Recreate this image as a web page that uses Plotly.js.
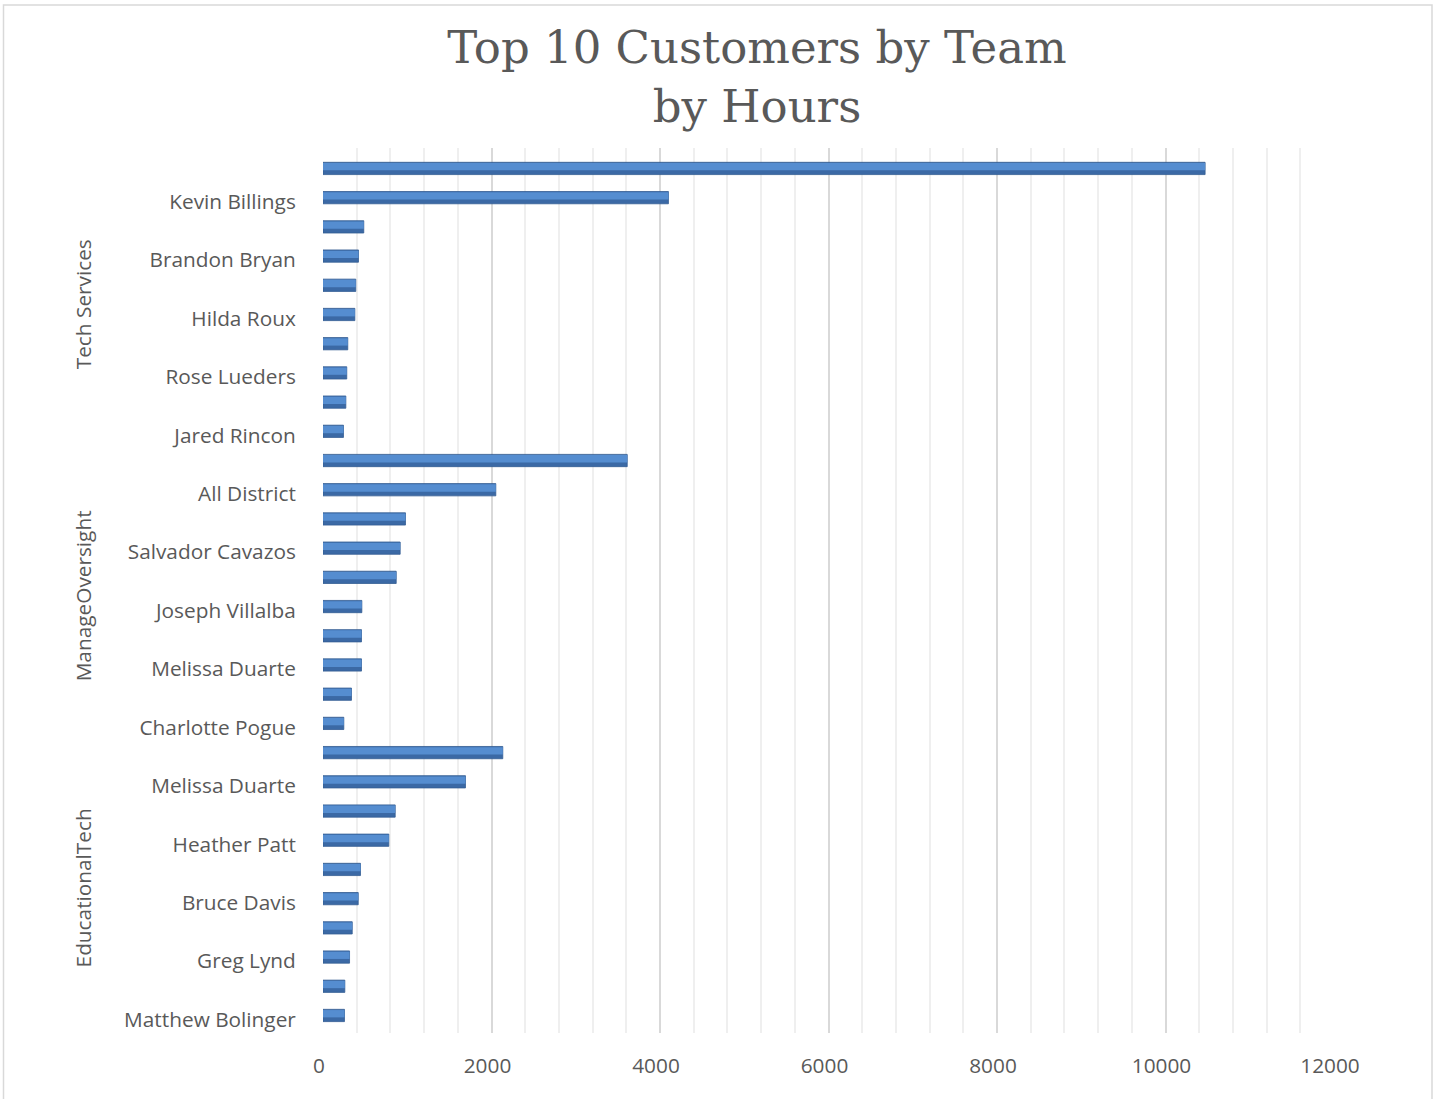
<!DOCTYPE html>
<html>
<head>
<meta charset="utf-8">
<script src="https://cdn.plot.ly/plotly-3.0.1.min.js"></script>
<style>
  html, body { margin: 0; padding: 0; background: #ffffff; }
  #chart { width: 1434px; height: 1099px; }
</style>
</head>
<body>
<div id="chart"></div>
<script>
// ---- Data ----
const teams = ["Tech Services", "ManageOversight", "EducationalTech"];
const teamSize = 10;
const customerLabels = [
  "", "Kevin Billings", "", "Brandon Bryan", "", "Hilda Roux", "", "Rose Lueders", "", "Jared Rincon",
  "", "All District", "", "Salvador Cavazos", "", "Joseph Villalba", "", "Melissa Duarte", "", "Charlotte Pogue",
  "", "Melissa Duarte", "", "Heather Patt", "", "Bruce Davis", "", "Greg Lynd", "", "Matthew Bolinger"
];
const hours = [
  10470, 4100, 484, 421, 389, 378, 294, 282, 271, 243,
  3611, 2051, 979, 916, 869, 461, 457, 457, 338, 247,
  2134, 1691, 857, 781, 445, 418, 347, 315, 259, 255
];
const xTickValues = [0, 2000, 4000, 6000, 8000, 10000, 12000];

// ---- Build ----
const positions = hours.map((_, i) => i);
const tickvals = [], ticktext = [];
customerLabels.forEach((lab, i) => { if (lab !== "") { tickvals.push(i); ticktext.push(lab); } });

const textColor = "#595959";
const labelFont = { family: "'Open Sans', 'Noto Sans', sans-serif", size: 20.8, color: textColor };

const baseBar = {
  type: "bar", orientation: "h",
  x: hours, y: positions,
  width: 0.42, offset: -0.21,
  marker: { color: "#3b69a5", line: { width: 0.8, color: "#345d93" } },
  hoverinfo: "x"
};
const highlightBar = {
  type: "bar", orientation: "h",
  x: hours, y: positions,
  width: 0.25, offset: -0.185,
  marker: { color: "#558dd0", line: { width: 0 } },
  hoverinfo: "skip"
};

const plotLeft = 323, plotRight = 1334, plotTop = 148, plotBottom = 1033;
const plotW = plotRight - plotLeft, plotH = plotBottom - plotTop;
const pxToPaperX = px => (px - plotLeft) / plotW;
const pxToPaperY = py => (plotBottom - py) / plotH;

const annotations = teams.map((t, k) => ({
  text: t,
  xref: "paper", x: pxToPaperX(83), xanchor: "center",
  yref: "y", y: k * teamSize + (teamSize - 1) / 2 + 0.15, yanchor: "middle",
  textangle: -90, showarrow: false,
  font: labelFont
}));

const layout = {
  width: 1434, height: 1099,
  paper_bgcolor: "#ffffff", plot_bgcolor: "#ffffff",
  margin: { l: plotLeft, r: 1434 - plotRight, t: plotTop, b: 1099 - plotBottom, pad: 0 },
  barmode: "overlay",
  showlegend: false,
  title: {
    text: "Top 10 Customers by Team<br>by Hours",
    font: { family: "'DejaVu Serif', 'Liberation Serif', serif", size: 45, color: textColor },
    xref: "container", x: 757 / 1434, xanchor: "center",
    yref: "container", y: 1 - 63 / 1099, yanchor: "top"
  },
  xaxis: {
    range: [0, 12000],
    tickvals: xTickValues,
    ticktext: xTickValues.map(String),
    showgrid: true, gridcolor: "#d9d9d9", gridwidth: 2,
    minor: { dtick: 400, showgrid: true, gridcolor: "#efefef", gridwidth: 2 },
    zeroline: false, showline: false,
    ticks: "outside", ticklen: 14, tickcolor: "rgba(0,0,0,0)",
    ticklabelshift: -4,
    tickfont: labelFont,
    fixedrange: true
  },
  yaxis: {
    range: [29.6, -0.7],
    tickvals: tickvals, ticktext: ticktext,
    showgrid: false, zeroline: false, showline: false,
    ticks: "outside", ticklen: 22, tickcolor: "rgba(0,0,0,0)",
    ticklabelshift: -4,
    tickfont: labelFont,
    fixedrange: true
  },
  annotations: annotations,
  shapes: [{
    type: "rect", xref: "paper", yref: "paper",
    x0: pxToPaperX(3.5), x1: pxToPaperX(1432),
    y0: pxToPaperY(1110), y1: pxToPaperY(5),
    line: { color: "#d9d9d9", width: 1.5 }, fillcolor: "rgba(0,0,0,0)",
    layer: "below"
  }]
};

Plotly.newPlot("chart", [baseBar, highlightBar], layout, { displayModeBar: false, staticPlot: true });
</script>
</body>
</html>
